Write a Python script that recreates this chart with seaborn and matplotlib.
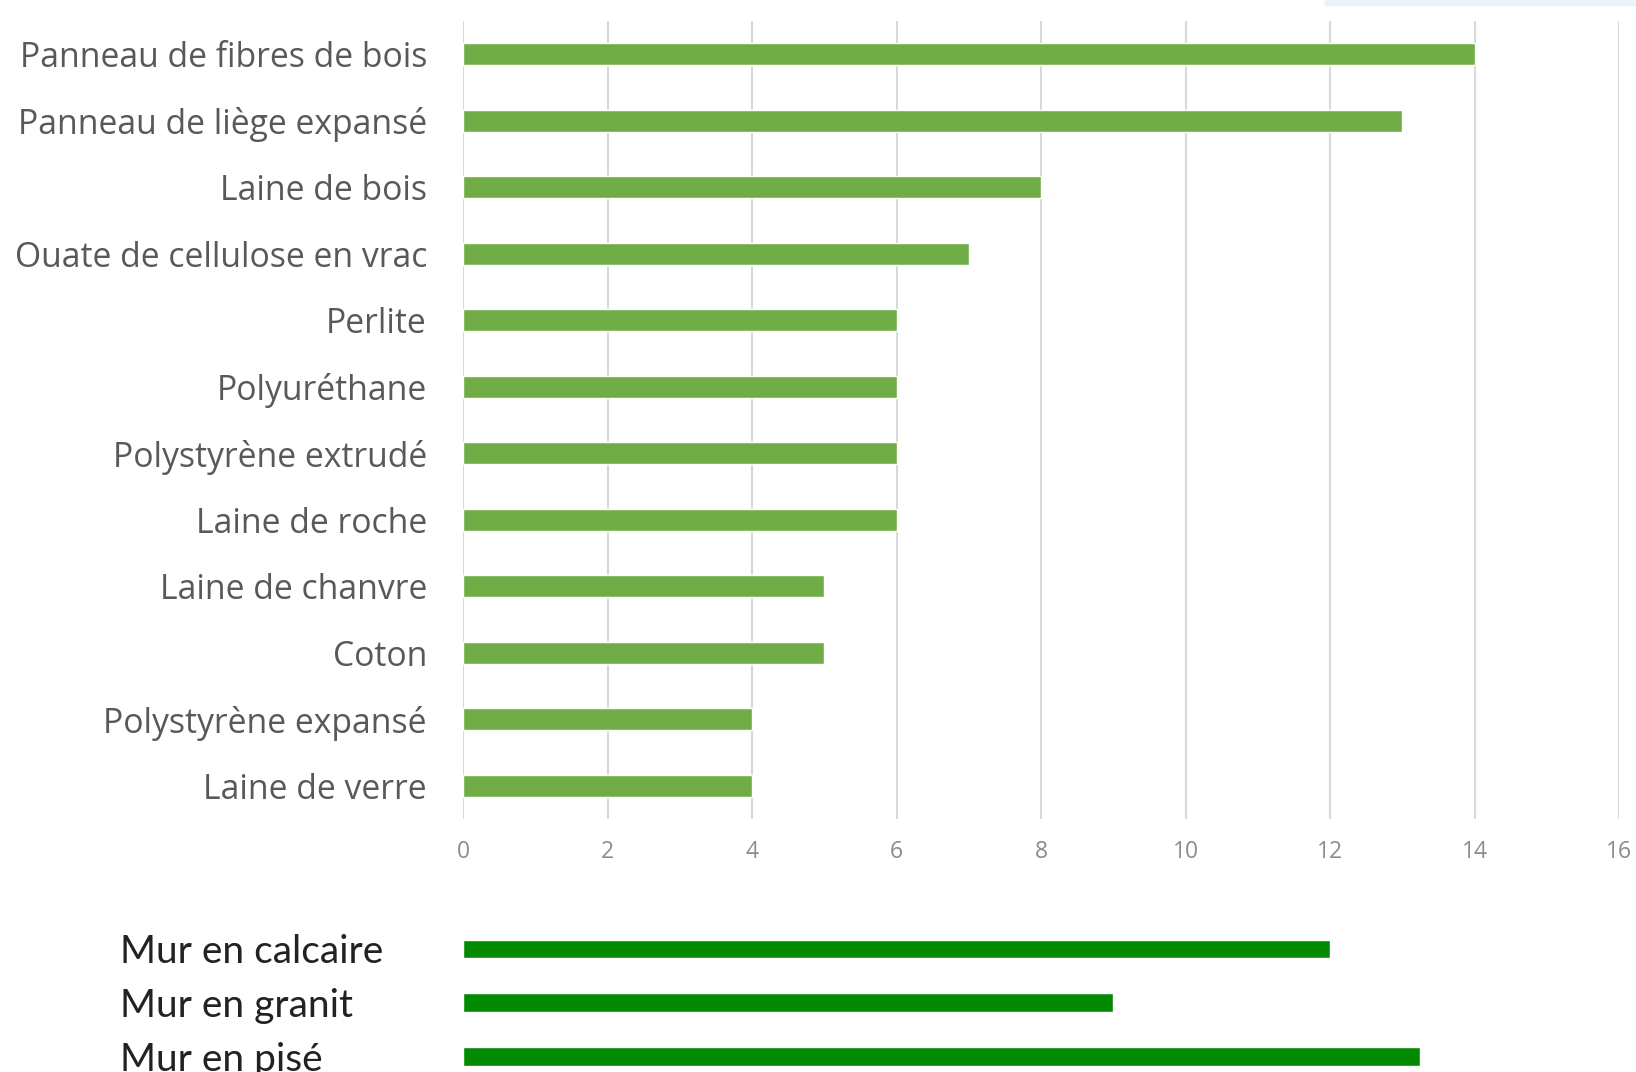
import matplotlib
matplotlib.use("Agg")
import matplotlib.pyplot as plt
import seaborn as sns
import pandas as pd

materials = ["Panneau de fibres de bois", "Panneau de liège expansé", "Laine de bois",
             "Ouate de cellulose en vrac", "Perlite", "Polyuréthane", "Polystyrène extrudé",
             "Laine de roche", "Laine de chanvre", "Coton", "Polystyrène expansé", "Laine de verre"]
values = [14, 13, 8, 7, 6, 6, 6, 6, 5, 5, 4, 4]

walls = ["Mur en calcaire", "Mur en granit", "Mur en pisé"]
wall_values = [12, 9, 13.25]

xticks = [0, 2, 4, 6, 8, 10, 12, 14, 16]

sns.set_theme(style="white")
plt.rcParams['font.family'] = ['Open Sans', 'DejaVu Sans']

W, H = 1636, 1072
fig = plt.figure(figsize=(W / 100, H / 100), dpi=100)
fig.patch.set_facecolor("white")

# light band at top right (artifact of original)
fig.patches.append(matplotlib.patches.Rectangle((1325 / W, 1 - 5 / H), 1 - 1325 / W, 5 / H,
                                                transform=fig.transFigure, color="#eaf2fb", zorder=0))

left = 463 / W
right = 1619 / W
ax = fig.add_axes([left, 1 - 819 / H, right - left, (819 - 21) / H])
df = pd.DataFrame({"material": materials, "value": values})
sns.barplot(data=df, y="material", x="value", orient="h", color="#70AD47",
            saturation=1, width=0.33, ax=ax, zorder=3)
ax.set_xlim(0, 16)
ax.set_ylim(11.5, -0.5)
ax.set_xticks(xticks)
ax.set_xticklabels([str(t) for t in xticks])
ax.grid(axis="x", color="#d9d9d9", linewidth=1.5, zorder=0)
ax.grid(axis="y", visible=False)
for s in ax.spines.values():
    s.set_visible(False)
ax.set_xlabel("")
ax.set_ylabel("")
ax.tick_params(axis="y", length=0, pad=26, labelsize=24.3, labelcolor="#595959")
ax.tick_params(axis="x", length=0, pad=15, labelsize=16.5, labelcolor="#8c8c8c")

# bottom chart
ax2 = fig.add_axes([left, 0, right - left, 150 / H])
df2 = pd.DataFrame({"wall": walls, "value": wall_values})
sns.barplot(data=df2, y="wall", x="value", orient="h", color="#038a03",
            saturation=1, width=0.35, ax=ax2)
ax2.set_xlim(0, 16)
ax2.set_ylim(2.28, -0.5)
for s in ax2.spines.values():
    s.set_visible(False)
ax2.set_xticks([])
ax2.set_xlabel("")
ax2.set_ylabel("")
ax2.tick_params(axis="y", length=0, pad=247, labelsize=28, labelcolor="#222222")
for lab in ax2.get_yticklabels():
    lab.set_horizontalalignment("left")
    lab.set_fontfamily(["Lato", "DejaVu Sans"])

fig.savefig("out.png", dpi=100, facecolor="white")
